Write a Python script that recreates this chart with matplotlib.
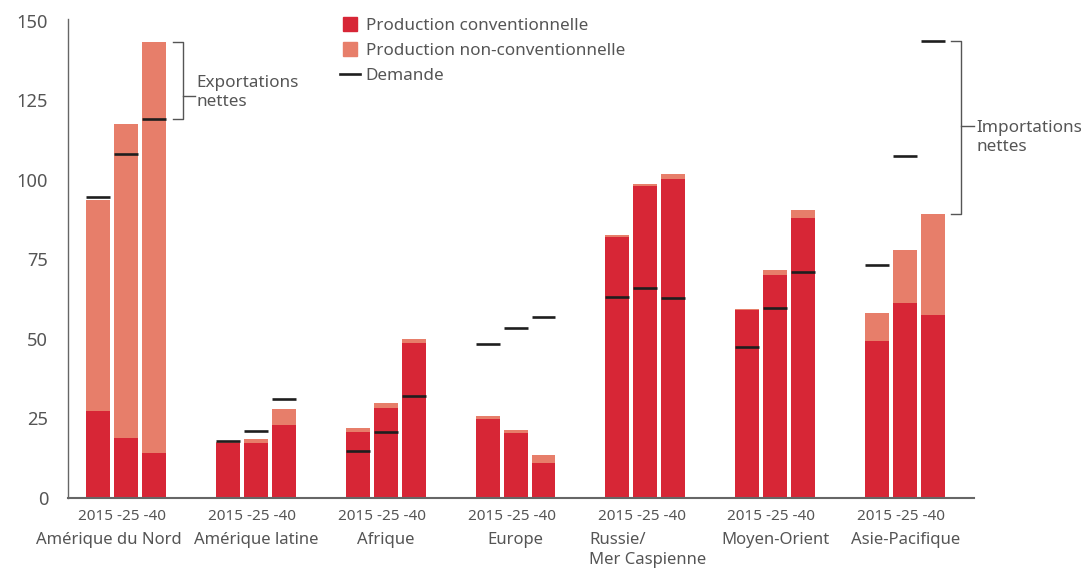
import numpy as np
import matplotlib
matplotlib.use("Agg")
import matplotlib.pyplot as plt
from matplotlib.lines import Line2D
import matplotlib.transforms as mtransforms

plt.rcParams['font.family'] = ['Noto Sans', 'DejaVu Sans']

# data
regions = ["Amérique du Nord", "Amérique latine", "Afrique", "Europe",
           "Russie/\nMer Caspienne", "Moyen-Orient", "Asie-Pacifique"]
year_labels = "2015 -25 -40"

conv_2015 = [27.4, 17.4, 20.8, 24.8, 82.1, 59.1, 49.4]
conv_2025 = [18.9, 17.3, 28.3, 20.4, 98.1, 70.1, 61.3]
conv_2040 = [14.2, 23.0, 48.7, 11.0, 100.3, 88.1, 57.5]

nonconv_2015 = [66.3, 0.3, 1.2, 1.0, 0.6, 0.3, 8.8]
nonconv_2025 = [98.7, 1.3, 1.6, 1.0, 0.6, 1.6, 16.7]
nonconv_2040 = [129.2, 5.0, 1.3, 2.5, 1.6, 2.5, 31.8]

demand_2015 = [94.7, 17.8, 14.9, 48.4, 63.2, 47.6, 73.4]
demand_2025 = [108.1, 21.1, 20.7, 53.4, 65.9, 59.7, 107.4]
demand_2040 = [119.2, 31.2, 32.2, 56.8, 62.9, 70.9, 143.7]

c_conv = "#d72636"
c_nonconv = "#e77e6a"
c_dem = "#1e1e1e"
c_text = "#555555"

fig = plt.figure(figsize=(10.81, 5.71), dpi=100)
ax = fig.add_axes([67.7 / 1081, 73 / 571, (974 - 67.7) / 1081, 478.7 / 571])

x = np.arange(len(regions))
off = 0.2154
w = 0.1846

series = [(conv_2015, nonconv_2015, demand_2015),
          (conv_2025, nonconv_2025, demand_2025),
          (conv_2040, nonconv_2040, demand_2040)]

for i, (conv, nonconv, dem) in enumerate(series):
    xs = x + (i - 1) * off
    ax.bar(xs, conv, width=w, color=c_conv, linewidth=0)
    ax.bar(xs, nonconv, width=w, bottom=conv, color=c_nonconv, linewidth=0)
    ax.hlines(dem, xs - w / 2, xs + w / 2, color=c_dem, linewidth=1.9)

ax.set_xlim(-0.448, 6.53)
ax.set_ylim(0, 150.5)
ax.set_yticks([0, 25, 50, 75, 100, 125, 150])
ax.set_xticks([])
ax.tick_params(axis='y', length=0, pad=14, labelsize=13.2, labelcolor=c_text)
for s in ['top', 'right']:
    ax.spines[s].set_visible(False)
ax.spines['left'].set_color('#666666')
ax.spines['left'].set_linewidth(1)
ax.spines['bottom'].set_color('#666666')
ax.spines['bottom'].set_linewidth(1.5)

# group labels under the axis (first name nudged left so it doesn't touch the next)
trans = mtransforms.blended_transform_factory(ax.transData, fig.transFigure)
name_shift = [-0.135, 0, 0, 0, 0.02, 0, 0]
for xi, name, sh in zip(x, regions, name_shift):
    ax.text(xi - 0.03, 1 - 517 / 571, year_labels, transform=trans, ha='center', va='center',
            fontsize=11, color=c_text)
    ax.text(xi + sh, 1 - 532 / 571, name, transform=trans, ha='center', va='top',
            fontsize=12, color=c_text, multialignment='left', linespacing=1.3)

# brackets: net exports (North America 2040) and net imports (Asia-Pacific 2040)
top_na = conv_2040[0] + nonconv_2040[0]
bot_na = demand_2040[0]
xb = x[0] + off
ax.plot([xb + 0.146, xb + 0.223, xb + 0.223, xb + 0.146],
        [top_na, top_na, bot_na, bot_na], color=c_text, lw=1, clip_on=False)
ax.plot([xb + 0.223, xb + 0.316], [126.4, 126.4], color=c_text, lw=1, clip_on=False)
ax.text(xb + 0.33, 127.5, "Exportations\nnettes", ha='left', va='center',
        fontsize=12.3, color=c_text, linespacing=1.25)

top_ap = demand_2040[6]
bot_ap = conv_2040[6] + nonconv_2040[6]
xb = x[6] + off
ax.plot([xb + 0.139, xb + 0.216, xb + 0.216, xb + 0.139],
        [top_ap, top_ap, bot_ap, bot_ap], color=c_text, lw=1, clip_on=False)
ax.plot([xb + 0.216, xb + 0.316], [117.0, 117.0], color=c_text, lw=1, clip_on=False)
ax.text(xb + 0.33, 113.4, "Importations\nnettes", ha='left', va='center',
        fontsize=12.3, color=c_text, linespacing=1.25)

handles = [
    Line2D([], [], marker='s', markersize=10, color=c_conv, linestyle='none'),
    Line2D([], [], marker='s', markersize=10, color=c_nonconv, linestyle='none'),
    Line2D([], [], color=c_dem, linewidth=1.9),
]
labels = ["Production conventionnelle", "Production non-conventionnelle", "Demande"]
fig.legend(handles, labels, loc='upper left', bbox_to_anchor=(340 / 1081, 1 - 17.5 / 571),
           frameon=False, fontsize=12.3, labelcolor=c_text, handlelength=1.15,
           handletextpad=0.35, labelspacing=0.55, borderpad=0, borderaxespad=0)

fig.savefig("out.png", dpi=100)
